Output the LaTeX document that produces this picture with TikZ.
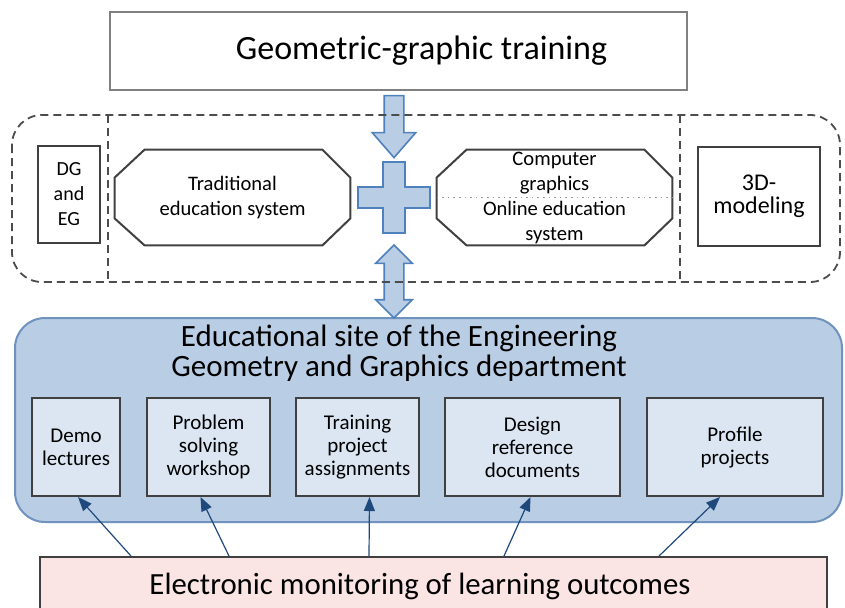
\documentclass[tikz,border=0pt]{standalone}
\usepackage{fontspec}
\setmainfont{Carlito}
\usetikzlibrary{shapes.arrows,arrows.meta}
\definecolor{siteblue}{RGB}{185,205,228}
\definecolor{siteedge}{RGB}{112,146,190}
\definecolor{cardblue}{RGB}{220,230,242}
\definecolor{arrowedge}{RGB}{79,129,189}
\definecolor{linkblue}{RGB}{31,73,125}
\definecolor{monpink}{RGB}{250,228,228}
\newcommand{\fs}[2]{\fontsize{#1}{#2}\selectfont}
% octagon drawn round a named node
\newcommand{\octagon}[1]{
    \draw[octline] ([xshift=15pt]#1.north west) -- ([xshift=-14pt]#1.north east)
        -- ([yshift=-14pt]#1.north east) -- ([yshift=13.5pt]#1.south east)
        -- ([xshift=-14pt]#1.south east) -- ([xshift=15pt]#1.south west)
        -- ([yshift=13.5pt]#1.south west) -- ([yshift=-14pt]#1.north west) -- cycle;
}
\tikzset{
    box/.style={draw=black!75, line width=1pt, rectangle, align=center, inner sep=1pt},
    card/.style={box, fill=cardblue, minimum height=49pt, font=\fs{10.5}{11.5}},
    octa/.style={rectangle, minimum width=117.5pt, minimum height=47.5pt, inner sep=0pt,
        align=center, font=\fs{10.3}{12.5}},
    octline/.style={draw=black!75, line width=1pt},
    blockarrow/.style={draw=arrowedge, fill=siteblue, line width=0.8pt},
    frame/.style={draw=black!70, line width=0.9pt, dash pattern=on 4pt off 2.5pt},
    link/.style={draw=linkblue, line width=0.6pt, -{Triangle[length=7pt,width=5.5pt]}}
}

\begin{document}
\begin{tikzpicture}[x=0.5pt, y=-0.5pt]
    \useasboundingbox (0,0) rectangle (845,607);

    % top block
    \node[box, draw=black!50, line width=1.2pt, minimum width=288.5pt, minimum height=39pt, font=\fs{17}{20}]
        (train) at (398.5,51) {\hspace*{23pt}Geometric-graphic training};

    % site with its sections
    \node[draw=siteedge, fill=siteblue, line width=1pt, rounded corners=15pt,
        minimum width=413.5pt, minimum height=102pt] (site) at (428.5,420) {};
    \node[align=center, font=\fs{15.5}{15}] (sitetitle) at (399,353)
        {Educational site of the Engineering\\Geometry and Graphics department};
    \node[card, minimum width=44pt] (demo) at (76,447) {Demo\\lectures};
    \node[card, minimum width=61.5pt] (solve) at (208.5,447) {Problem\\solving\\workshop};
    \node[card, minimum width=61.5pt] (assign) at (357.5,447) {Training\\project\\assignments};
    \node[card, minimum width=87.5pt] (design) at (532.5,447) {Design\\reference\\documents};
    \node[card, minimum width=88pt] (profile) at (735,447) {Profile\\projects};

    % monitoring feeds every section
    \node[box, fill=monpink, minimum width=393.5pt, minimum height=29pt, font=\fs{15.4}{17}]
        (monitor) at (433.5,586) {Electronic monitoring of learning outcomes\hspace*{13.5pt}};
    \draw[link] ([xshift=46pt]monitor.north west) -- ([xshift=1pt]demo.south);
    \draw[link] ([xshift=95pt]monitor.north west) -- ([xshift=-4pt]solve.south);
    \draw[link] ([xshift=165pt]monitor.north west) -- ([xshift=6pt]assign.south);
    \draw[link] ([xshift=232.5pt]monitor.north west) -- ([xshift=-1pt]design.south);
    \draw[link] ([xshift=310pt]monitor.north west) -- ([xshift=-7.5pt]profile.south);

    % middle row
    \node[box, minimum width=31pt, minimum height=48.5pt, font=\fs{10}{12.5}] (dgeg) at (69,194.5) {DG\\and\\EG};
    \node[octa] (trad) at (232.5,197.5) {Traditional\\education system};
    \octagon{trad}
    \node[octa] (online) at (554.5,197.5) {Computer\\graphics\\Online education\\system};
    \octagon{online}
    \draw[black!40, dotted, line width=0.8pt] (online.west) -- (online.east);
    \node[box, minimum width=61pt, minimum height=49.5pt, font=\fs{12}{11.5}] (model) at (759,196) {3D-\\modeling};
    \coordinate (plus) at (394,197.5);

    % block arrows
    \node[single arrow, blockarrow, rotate=-90, minimum height=31pt, inner xsep=0pt, inner ysep=4.5pt,
        single arrow head extend=6pt, single arrow tip angle=82] (down) at (394,121) {};
    \node[double arrow, blockarrow, rotate=90, minimum height=36.5pt, inner xsep=0pt, inner ysep=4.5pt,
        double arrow head extend=4.25pt] (both) at (394,281.5) {};
    \draw[blockarrow, shift={(plus)}] (-11,-35.5) -- (11,-35.5) -- (11,-10.5) -- (36,-10.5) -- (36,10.5)
        -- (11,10.5) -- (11,35.5) -- (-11,35.5) -- (-11,10.5) -- (-36,10.5) -- (-36,-10.5) -- (-11,-10.5) -- cycle;

    % dashed frame
    \draw[frame, rounded corners=15pt] (12,115) rectangle (840,282);
    \draw[frame] (108,115) -- (108,282);
    \draw[frame] (680,115) -- (680,282);
\end{tikzpicture}
\end{document}
